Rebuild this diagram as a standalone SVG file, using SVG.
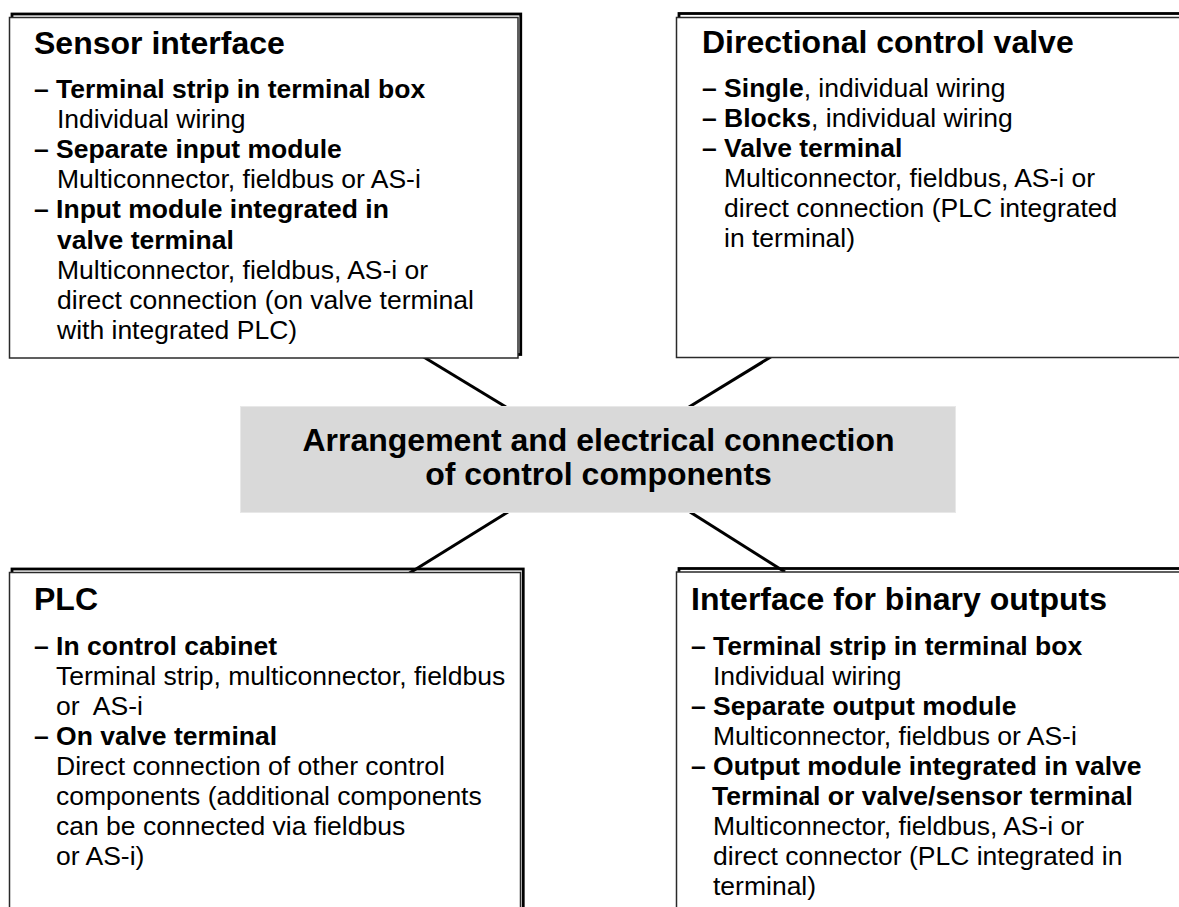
<svg xmlns="http://www.w3.org/2000/svg" width="1179" height="907" viewBox="0 0 1179 907">
  <style>
    text { font-family: "Liberation Sans", Arial, sans-serif; fill: #000; }
    .title { font-size: 32px; font-weight: bold; }
    .b { font-size: 26.5px; font-weight: bold; }
    .r { font-size: 26.5px; font-weight: normal; }
    .center { font-size: 32px; font-weight: bold; text-anchor: middle; }
    .shadow { fill: none; stroke: #000; stroke-width: 2.8; }
    .box { fill: #fff; stroke: #2a2a2a; stroke-width: 1.5; }
    .hub { fill: #d9d9d9; stroke: #e8e8e8; stroke-width: 1; }
    .link { stroke: #000; stroke-width: 3; fill: none; }
    .pre { white-space: pre; }
  </style>

  <rect width="1179" height="907" fill="#fff"/>

  <!-- connectors from the central topic to the four boxes -->
  <g id="connectors">
    <line class="link" x1="422" y1="356" x2="506" y2="407"/>
    <line class="link" x1="774" y1="355" x2="689" y2="407"/>
    <line class="link" x1="508" y1="512" x2="408" y2="574"/>
    <line class="link" x1="690" y1="512" x2="785" y2="572"/>
  </g>

  <!-- central topic -->
  <g id="hub">
    <rect class="hub" x="240.5" y="406.5" width="715" height="106"/>
    <text class="center" x="598.5" y="450.5">Arrangement and electrical connection</text>
    <text class="center" x="598.5" y="485">of control components</text>
  </g>

  <!-- sensor interface -->
  <g id="sensor-interface">
    <rect class="shadow" x="12" y="14" width="508.75" height="340.5"/>
    <rect class="box" x="9.5" y="17.5" width="508.5" height="340.5"/>
    <text class="title" x="34" y="54">Sensor interface</text>
    <text class="b" x="34" y="97.5">– Terminal strip in terminal box</text>
    <text class="r" x="57" y="127.5">Individual wiring</text>
    <text class="b" x="34" y="157.5">– Separate input module</text>
    <text class="r" x="57" y="187.5">Multiconnector, fieldbus or AS-i</text>
    <text class="b" x="34" y="218">– Input module integrated in</text>
    <text class="b" x="57" y="248.5">valve terminal</text>
    <text class="r" x="57" y="279">Multiconnector, fieldbus, AS-i or</text>
    <text class="r" x="57" y="309">direct connection (on valve terminal</text>
    <text class="r" x="57" y="339">with integrated PLC)</text>
  </g>

  <!-- directional control valve -->
  <g id="directional-control-valve">
    <rect class="shadow" x="679" y="13.5" width="520" height="340"/>
    <rect class="box" x="676.5" y="17.5" width="520" height="340"/>
    <text class="title" x="702" y="52.5">Directional control valve</text>
    <text x="702" y="97"><tspan class="b">– Single</tspan><tspan class="r">, individual wiring</tspan></text>
    <text x="702" y="127"><tspan class="b">– Blocks</tspan><tspan class="r">, individual wiring</tspan></text>
    <text class="b" x="702" y="157">– Valve terminal</text>
    <text class="r" x="724" y="187">Multiconnector, fieldbus, AS-i or</text>
    <text class="r" x="724" y="217">direct connection (PLC integrated</text>
    <text class="r" x="724" y="247">in terminal)</text>
  </g>

  <!-- PLC -->
  <g id="plc">
    <rect class="shadow" x="12" y="569" width="511.25" height="400"/>
    <rect class="box" x="9.5" y="572.5" width="511" height="400"/>
    <text class="title" x="34" y="610">PLC</text>
    <text class="b" x="34" y="655">– In control cabinet</text>
    <text class="r" x="56" y="685">Terminal strip, multiconnector, fieldbus</text>
    <text class="r pre" x="56" y="715">or  AS-i</text>
    <text class="b" x="34" y="745">– On valve terminal</text>
    <text class="r" x="56" y="775">Direct connection of other control</text>
    <text class="r" x="56" y="805">components (additional components</text>
    <text class="r" x="56" y="835">can be connected via fieldbus</text>
    <text class="r" x="56" y="865">or AS-i)</text>
  </g>

  <!-- interface for binary outputs -->
  <g id="binary-outputs">
    <rect class="shadow" x="679" y="568.5" width="520" height="400"/>
    <rect class="box" x="676.5" y="572" width="520" height="400"/>
    <text class="title" x="691" y="610">Interface for binary outputs</text>
    <text class="b" x="691" y="655">– Terminal strip in terminal box</text>
    <text class="r" x="713" y="685">Individual wiring</text>
    <text class="b" x="691" y="715">– Separate output module</text>
    <text class="r" x="713" y="745">Multiconnector, fieldbus or AS-i</text>
    <text class="b" x="691" y="775">– Output module integrated in valve</text>
    <text class="b" x="712" y="805">Terminal or valve/sensor terminal</text>
    <text class="r" x="713" y="835">Multiconnector, fieldbus, AS-i or</text>
    <text class="r" x="713" y="865">direct connector (PLC integrated in</text>
    <text class="r" x="713" y="895">terminal)</text>
  </g>
</svg>
